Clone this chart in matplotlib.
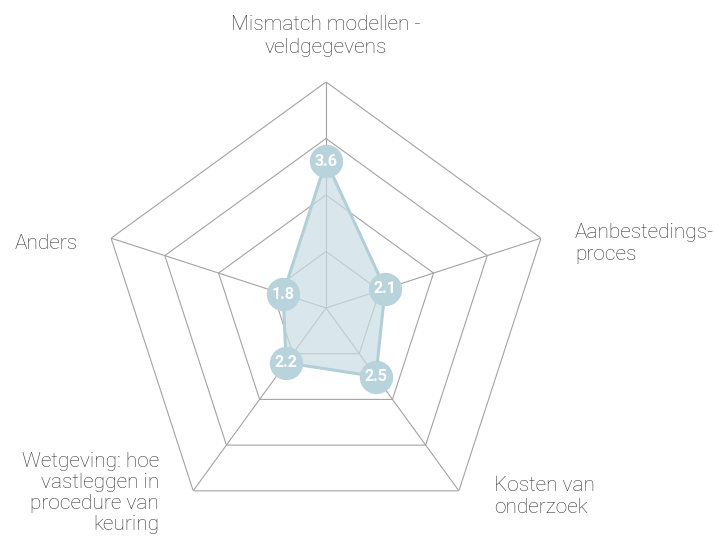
import numpy as np
import matplotlib
matplotlib.use("Agg")
import matplotlib.pyplot as plt

# Scores per knelpunt (schaal 1-5)
categories = [
    "Mismatch modellen -\nveldgegevens",
    "Aanbestedings-\nproces",
    "Kosten van\nonderzoek",
    "Wetgeving: hoe\nvastleggen in\nprocedure van\nkeuring",
    "Anders",
]
scores = [3.6, 2.1, 2.5, 2.2, 1.8]
score_labels = ["3.6", "2.1", "2.5", "2.2", "1.8"]
levels = [2, 3, 4, 5]

plt.rcParams["font.family"] = ["Roboto", "DejaVu Sans"]

n = len(categories)
angles = np.linspace(0, 2 * np.pi, n, endpoint=False)
closed = np.append(angles, angles[0])

fig = plt.figure(figsize=(7.15, 5.39), dpi=100)
ax = fig.add_axes([0.1399, 0.0093, 0.6322, 0.8386], projection="polar")
ax.set_theta_offset(np.pi / 2)
ax.set_theta_direction(-1)
ax.set_ylim(1, 5)
ax.grid(False)
ax.spines["polar"].set_visible(False)
ax.set_xticks([])
ax.set_yticks([])

# pentagon grid and spokes
grid_col = "#a3a3a3"
for lv in levels:
    ax.plot(closed, [lv] * (n + 1), color=grid_col, lw=0.8, zorder=1)
for a in angles:
    ax.plot([a, a], [1, 5], color=grid_col, lw=0.8, zorder=1)

# data polygon
vals = scores + scores[:1]
ax.fill(closed, vals, color="#c9dde4", alpha=0.7, zorder=2)
ax.plot(closed, vals, color="#b2cfd8", lw=2.2, zorder=3)
ax.plot(angles, scores, "o", ms=24, color="#b8d3dc", mec="none", zorder=4)
for a, v, t in zip(angles, scores, score_labels):
    ax.text(a, v, t, ha="center", va="center", color="white",
            fontsize=11.5, fontweight="bold", zorder=5)

# axis labels: (dx, dy, ha, va, line spacing)
offsets = [(0, 25, "center", "bottom", 1.25),
           (34, -5, "left", "center", 1.2),
           (35, -6, "left", "center", 1.2),
           (-34, -2, "right", "center", 1.12),
           (-33, -5, "right", "center", 1.2)]
for a, lab, (dx, dy, ha, va, ls) in zip(angles, categories, offsets):
    ax.annotate(lab, xy=(a, 5), xytext=(dx, dy), textcoords="offset pixels",
                ha=ha, va=va, multialignment=ha,
                fontsize=15, fontweight="light", color="#333333",
                linespacing=ls, annotation_clip=False)

fig.savefig("out.png", dpi=100)
